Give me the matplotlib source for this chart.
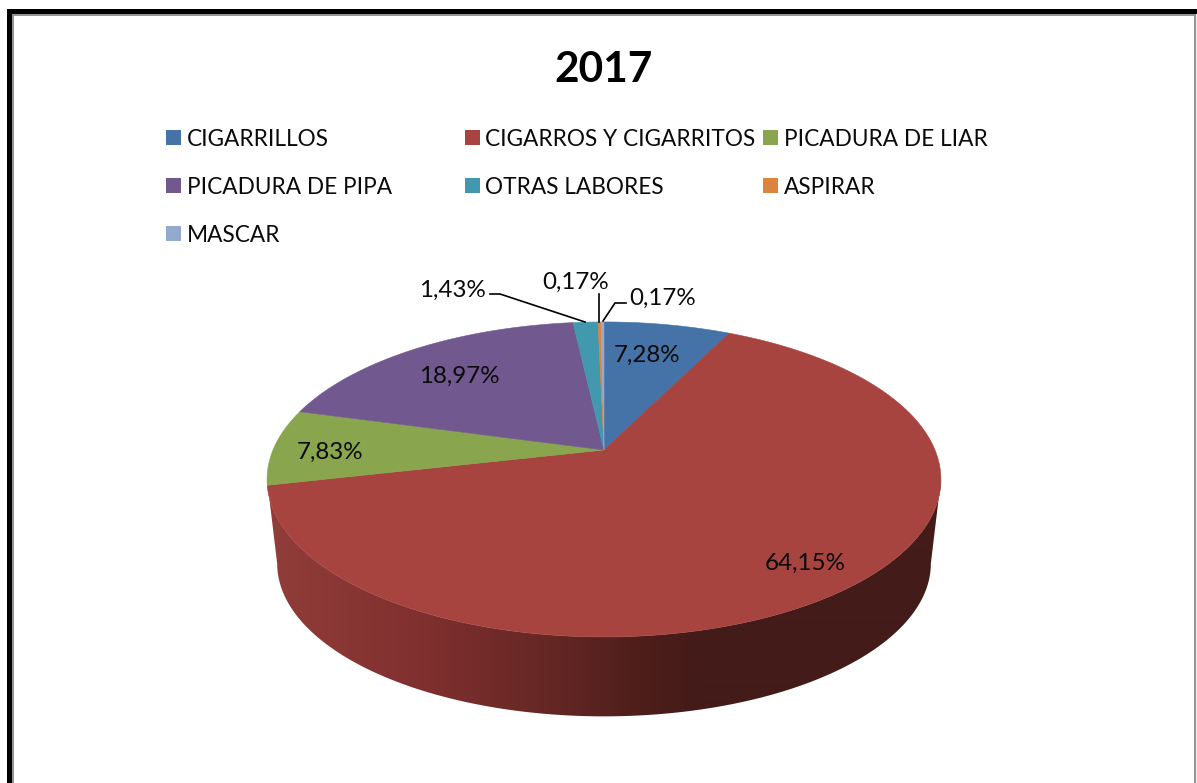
import numpy as np
import matplotlib
matplotlib.use("Agg")
import matplotlib.pyplot as plt
from matplotlib.patches import Polygon, Rectangle

categories = ["CIGARRILLOS", "CIGARROS Y CIGARRITOS", "PICADURA DE LIAR",
              "PICADURA DE PIPA", "OTRAS LABORES", "ASPIRAR", "MASCAR"]
values = [7.28, 64.15, 7.83, 18.97, 1.43, 0.17, 0.17]
colors = ["#4572A7", "#A74440", "#89A54E", "#71588F", "#4198AF", "#DB843D", "#93A9CF"]
title = "2017"

plt.rcParams["font.family"] = ["Lato", "DejaVu Sans"]
W, H = 1197, 783
fig = plt.figure(figsize=(W / 100, H / 100), dpi=100, facecolor="white")
ax = fig.add_axes([0, 0, 1, 1])
ax.axis("off")

# projected pie disc
CX, CY, A, B, K = 604.0, 450.0, 331.0, 152.0, 0.187


def project(theta, scale=1.0, dy=0.0, r=1.0):
    x, y = r * np.sin(theta), r * np.cos(theta)
    den = 1 + K * y
    return CX + scale * A * x / den, CY + dy - scale * B * y / den


def fmt(v):
    return f"{v:.2f}".replace(".", ",") + "%"


edges = np.concatenate([[0], np.cumsum(values)]) / sum(values) * 2 * np.pi

# side wall: horizontal gradient clipped to the outline between the two
# silhouette tangents of the disc
side = np.arccos(-K)
start, end = side, 2 * np.pi - side
wall_x = [280, 420, 540, 640, 700, 940]
wall_c = np.array([[0x90, 0x3C, 0x39], [0x80, 0x30, 0x2F], [0x67, 0x28, 0x25],
                   [0x4E, 0x1E, 0x1B], [0x43, 0x1B, 0x19], [0x43, 0x1B, 0x19]]) / 255
px = np.arange(255, 950)
grad = np.stack([np.interp(px, wall_x, wall_c[:, i]) for i in range(3)], axis=-1)[None, :, :]
ts = np.linspace(start, end, 400)
tx, ty = project(ts)
bx, by = project(ts, 0.97, 85)
outline = Polygon(list(zip(tx, ty)) + list(zip(bx[::-1], by[::-1])), closed=True,
                  transform=ax.transData, facecolor="none", edgecolor="none")
ax.add_patch(outline)
img = ax.imshow(grad, extent=(255, 950, 730, 400), aspect="auto", zorder=2,
                interpolation="bilinear")
img.set_clip_path(outline)

ax.set_xlim(0, W)
ax.set_ylim(H, 0)

# top face
for i, col in enumerate(colors):
    t = np.linspace(edges[i], edges[i + 1], 200)
    xs, ys = project(t)
    pts = [(CX, CY)] + list(zip(xs, ys))
    ax.add_patch(Polygon(pts, closed=True, facecolor=col, edgecolor=col, lw=0.4, zorder=3))

# frame
ax.add_patch(Rectangle((1196, 14), 1, H, facecolor="#F0F0F0", edgecolor="none", zorder=1))
ax.plot([1195, 1195], [15, H], color="#8A8A8A", lw=1.3, zorder=5)
ax.plot([13.5, 1195], [15, 15], color="#8A8A8A", lw=1.3, zorder=5)
ax.plot([13.2, 13.2], [15, H], color="#8A8A8A", lw=1.3, zorder=5)
ax.add_patch(Rectangle((7, 9), 1190, 5, facecolor="black", edgecolor="none", zorder=6))
ax.add_patch(Rectangle((7, 9), 5, H, facecolor="black", edgecolor="none", zorder=6))

# title
ax.text(603.5, 70, title, ha="center", va="center", fontsize=30.5, fontweight="bold",
        color="black", zorder=7)

# legend
col_x = [166, 465, 763]
text_x = [187, 485, 784]
row_y = [137.5, 185.5, 233.5]
for i, (name, col) in enumerate(zip(categories, colors)):
    r, c = divmod(i, 3)
    x, y = col_x[c], row_y[r]
    ax.add_patch(Rectangle((x, y - 7.5), 15, 15, facecolor=col, edgecolor="none", zorder=7))
    ax.text(text_x[c], y + 1.5, name, ha="left", va="center", fontsize=16.3, color="#0A0A0A", zorder=7)

# data labels
label_xy = [(647, 355), (805, 563), (330, 452), (459, 376), (452, 290), (576, 282), (663, 298)]
for v, (x, y) in zip(values, label_xy):
    ax.text(x, y, fmt(v), ha="center", va="center", fontsize=17.4, color="#0A0A0A", zorder=8)

# leader lines
for xs, ys in [([490, 500, 585], [294, 294, 322]),
               ([599, 599], [294, 322]),
               ([626, 615, 603], [303, 303, 321])]:
    ax.plot(xs, ys, color="black", lw=1.2, zorder=8, solid_joinstyle="miter")

fig.savefig("out.png", dpi=100, facecolor="white")
